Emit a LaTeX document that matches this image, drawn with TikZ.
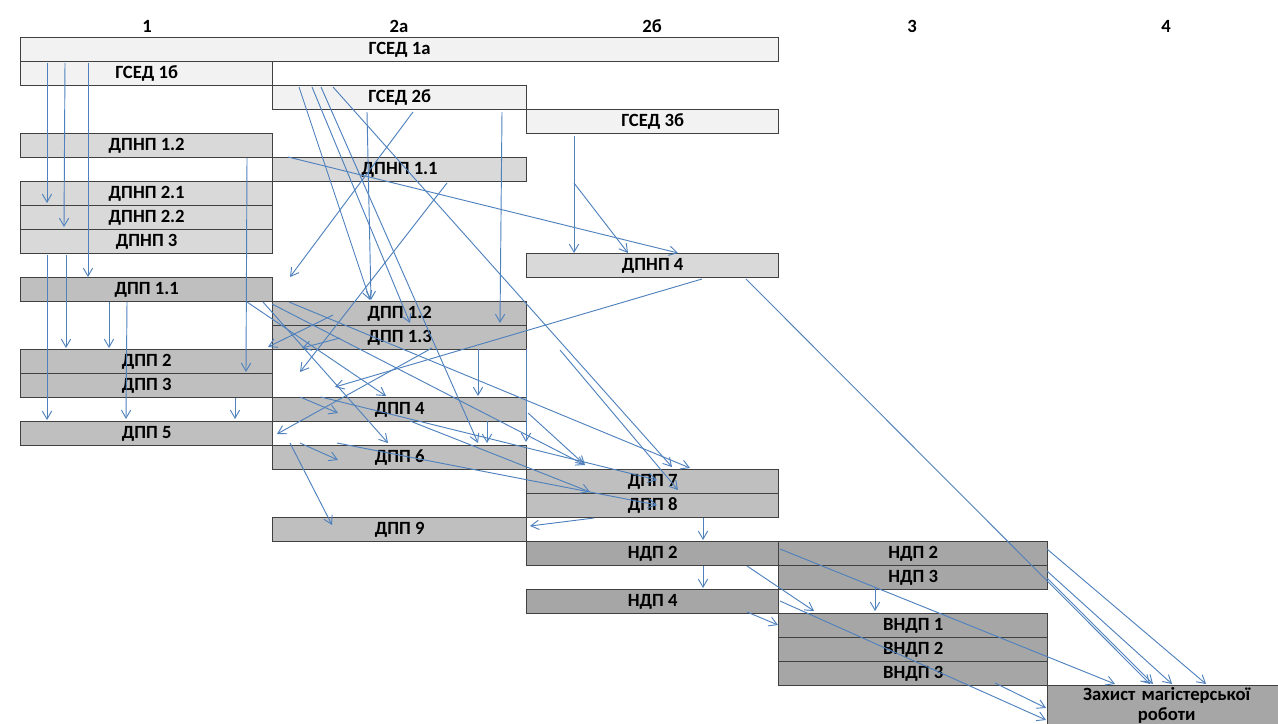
\documentclass[tikz,border=0pt]{standalone}
\usepackage{fontspec}
\setmainfont{Carlito}
\usetikzlibrary{arrows.meta}

\definecolor{gsedfill}{HTML}{F2F2F2}
\definecolor{dpnpfill}{HTML}{D9D9D9}
\definecolor{dppfill}{HTML}{BFBFBF}
\definecolor{ndpfill}{HTML}{A6A6A6}
\definecolor{rama}{HTML}{404040}
\definecolor{strilka}{HTML}{4F81BD}

\tikzset{
	napys/.style={font=\fontsize{14}{16.5}\selectfont\bfseries},
	blok/.style={napys, draw=rama, line width=1pt, inner sep=0pt, minimum height=18pt, anchor=north west},
	strl/.style={draw=strilka, line width=0.7pt, -{Straight Barb[length=6pt,width=7pt]}},
}

\begin{document}
\begin{tikzpicture}[x=0.75pt, y=-0.75pt]
	\useasboundingbox (0,0) rectangle (1278,724);

% номери стовпців
	\foreach \nm/\x/\t in {col1/147/1, col2a/399/2а, col2b/652/2б, col3/912/3, col4/1166/4}
		\node[napys, inner sep=0pt] (\nm) at (\x,26) {\t};

% ГСЕД
	\foreach \nm/\x/\y/\w/\t in {gsed1a/20/37/758/ГСЕД 1а, gsed1b/20/61/252/ГСЕД 1б,
		gsed2b/272/85/254/ГСЕД 2б, gsed3b/526/109/252/ГСЕД 3б}
		\node[blok, fill=gsedfill, minimum width=\w*0.75pt] (\nm) at (\x,\y) {\t};

% ДПНП
	\foreach \nm/\x/\y/\w/\t in {dpnp12/20/133/252/ДПНП 1.2, dpnp11/272/157/254/ДПНП 1.1,
		dpnp21/20/181/252/ДПНП 2.1, dpnp22/20/205/252/ДПНП 2.2, dpnp3/20/229/252/ДПНП 3,
		dpnp4/526/253/252/ДПНП 4}
		\node[blok, fill=dpnpfill, minimum width=\w*0.75pt] (\nm) at (\x,\y) {\t};

% ДПП
	\foreach \nm/\x/\y/\w/\t in {dpp11/20/277/252/ДПП 1.1, dpp12/272/301/254/ДПП 1.2,
		dpp13/272/325/254/ДПП 1.3, dpp2/20/349/252/ДПП 2, dpp3/20/373/252/ДПП 3,
		dpp4/272/397/254/ДПП 4, dpp5/20/421/252/ДПП 5, dpp6/272/445/254/ДПП 6,
		dpp7/526/469/252/ДПП 7, dpp8/526/493/252/ДПП 8, dpp9/272/517/254/ДПП 9}
		\node[blok, fill=dppfill, minimum width=\w*0.75pt] (\nm) at (\x,\y) {\t};

% НДП, ВНДП
	\foreach \nm/\x/\y/\w/\t in {ndp2/526/541/252/НДП 2, ndp2r/778/541/269/НДП 2,
		ndp3/778/565/269/НДП 3, ndp4/526/589/252/НДП 4, vndp1/778/613/269/ВНДП 1,
		vndp2/778/637/269/ВНДП 2, vndp3/778/661/269/ВНДП 3}
		\node[blok, fill=ndpfill, minimum width=\w*0.75pt] (\nm) at (\x,\y) {\t};
	\node[blok, fill=ndpfill, minimum width=178.5pt, minimum height=30pt, text width=170pt,
		align=center, font=\fontsize{14}{15}\selectfont\bfseries] (zakhyst) at (1047,685)
		{Захист магістерської\\роботи};

% стрілки: стовпець 1
	\foreach \a/\ax/\ay/\b/\bx/\by in {gsed1b/27/2/dpnp21/27/22, gsed1b/45/2/dpnp22/44/22,
		gsed1b/68/2/dpp11/68/0, dpnp3/27/26/dpp5/27/-1, dpnp3/46/26/dpp2/46/-1,
		dpnp12/227/25/dpp2/226/23, dpp11/89/25/dpp2/89/-1, dpp11/107/25/dpp5/106/-2,
		dpp3/215/25/dpp5/215/-2, dpp11/227/25/dpp4/114/-1, dpp11/243/25/dpp6/116/-2,
		dpp11/269/25/dpp7/164/-1, dpp11/252/27/dpp7/59/-4}
		\draw[strl] ([shift={(\ax,\ay)}]\a.north west) -- ([shift={(\bx,\by)}]\b.north west);

% стрілки: стовпці 2а, 2б
	\foreach \a/\ax/\ay/\b/\bx/\by in {gsed2b/27/2/dpp12/98/-1, gsed2b/40/2/dpp12/138/22,
		gsed2b/49/2/dpp6/206/-2, gsed2b/61/2/dpp7/146/-2, dpp13/288/25/dpp7/152/21,
		gsed2b/95/27/dpp12/99/-1, gsed2b/230/27/dpp12/228/22, gsed2b/141/27/dpp11/270/0,
		dpnp11/175/26/dpp3/280/-1, dpnp12/268/24/dpnp4/152/0, gsed3b/48/27/dpnp4/48/0,
		gsed3b/48/74/dpnp4/102/0, dpnp4/176/26/dpp3/315/14, dpp13/160/23/dpp5/257/13,
		dpp12/61/14/dpp2/248/-2, dpp13/68/13/dpp2/282/-1, dpp13/206/24/dpp4/206/-1,
		dpp13/254/24/dpp6/254/-3}
		\draw[strl] ([shift={(\ax,\ay)}]\a.north west) -- ([shift={(\bx,\by)}]\b.north west);

% стрілки: ДПП 4 -- ДПП 9
	\foreach \a/\ax/\ay/\b/\bx/\by in {dpp4/28/0/dpp4/66/16, dpp4/49/0/dpp7/131/11,
		dpp4/256/16/dpp7/59/-4, dpp4/138/24/dpp8/64/-1, dpp4/215/24/dpp6/215/-2,
		dpp6/28/-2/dpp6/66/15, dpp6/18/-2/dpp9/60/8, dpp6/65/-2/dpp8/131/12,
		dpp8/68/25/dpp9/258/9}
		\draw[strl] ([shift={(\ax,\ay)}]\a.north west) -- ([shift={(\bx,\by)}]\b.north west);

% стрілки: НДП, захист
	\foreach \a/\ax/\ay/\b/\bx/\by in {dpp8/177/25/ndp2/177/-1, ndp2/177/25/ndp4/177/-1,
		ndp2/221/25/vndp1/36/-2, ndp4/221/23/vndp1/0/12, ndp3/97/23/vndp1/97/-2,
		ndp2/254/8/zakhyst/68/-1, ndp4/254/12/zakhyst/-1/35, vndp3/217/22/zakhyst/-1/23,
		dpnp4/220/26/zakhyst/103/-1, ndp2r/269/8/zakhyst/159/-1, ndp3/269/6/zakhyst/125/-1,
		ndp3/269/13/zakhyst/106/-1}
		\draw[strl] ([shift={(\ax,\ay)}]\a.north west) -- ([shift={(\bx,\by)}]\b.north west);
\end{tikzpicture}
\end{document}
